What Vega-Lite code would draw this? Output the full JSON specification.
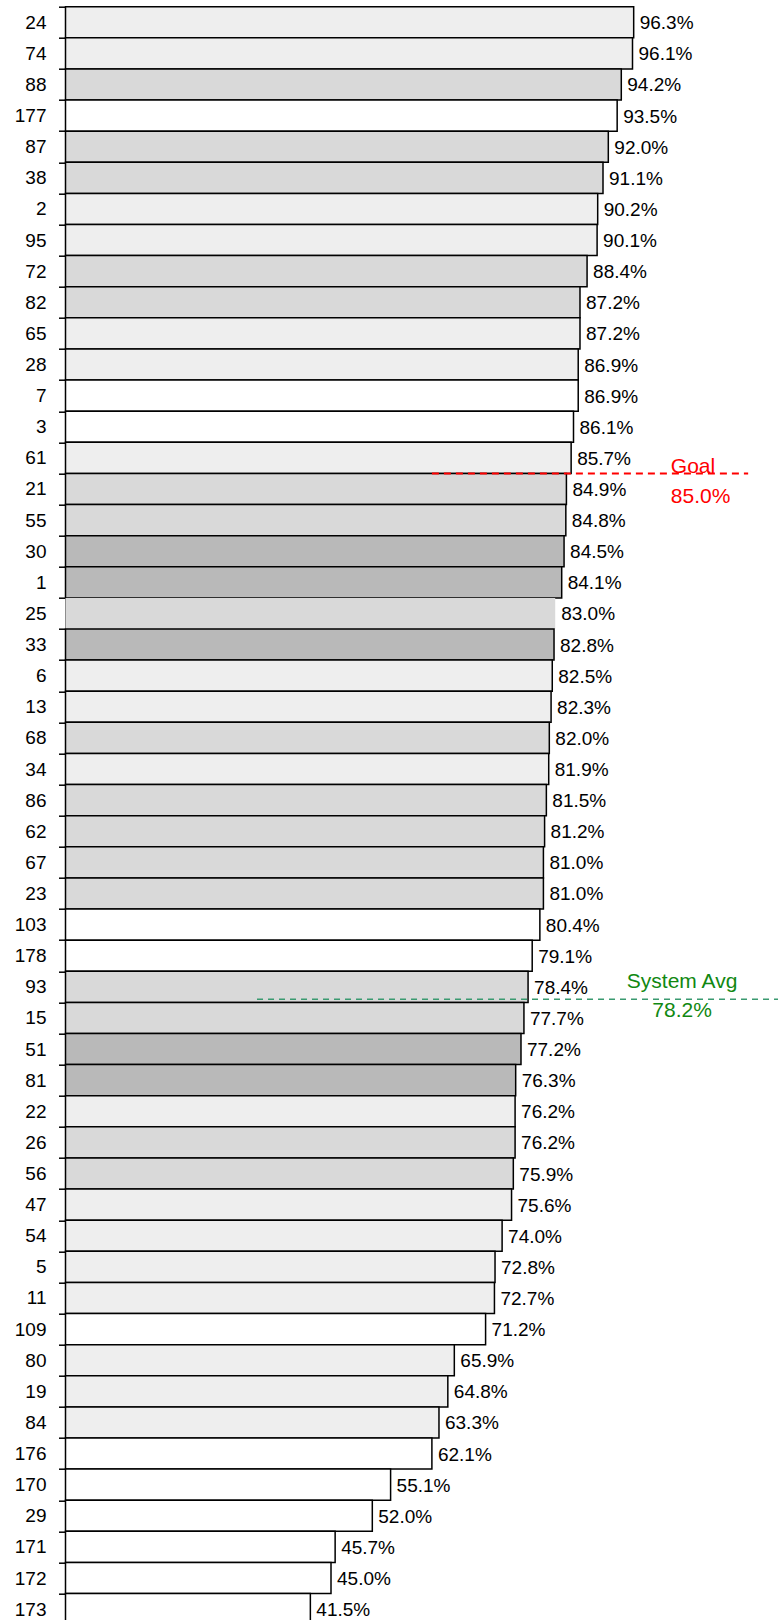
{
  "$schema": "https://vega.github.io/schema/vega-lite/v6.json",
  "width": 712.5,
  "height": 1618,
  "autosize": {"type": "none"},
  "padding": {"left": 65.5, "top": 6.7, "right": 0, "bottom": -4.7},
  "background": "white",
  "view": {"stroke": null},
  "config": {"font": "Liberation Sans"},
  "datasets": {
    "bars": [
      {"id": "24", "v": 0.963, "pat": "sparse"},
      {"id": "74", "v": 0.961, "pat": "sparse"},
      {"id": "88", "v": 0.942, "pat": "medium"},
      {"id": "177", "v": 0.935, "pat": "white"},
      {"id": "87", "v": 0.920, "pat": "medium"},
      {"id": "38", "v": 0.911, "pat": "medium"},
      {"id": "2", "v": 0.902, "pat": "sparse"},
      {"id": "95", "v": 0.901, "pat": "sparse"},
      {"id": "72", "v": 0.884, "pat": "medium"},
      {"id": "82", "v": 0.872, "pat": "medium"},
      {"id": "65", "v": 0.872, "pat": "sparse"},
      {"id": "28", "v": 0.869, "pat": "sparse"},
      {"id": "7", "v": 0.869, "pat": "white"},
      {"id": "3", "v": 0.861, "pat": "white"},
      {"id": "61", "v": 0.857, "pat": "sparse"},
      {"id": "21", "v": 0.849, "pat": "medium"},
      {"id": "55", "v": 0.848, "pat": "medium"},
      {"id": "30", "v": 0.845, "pat": "dense"},
      {"id": "1", "v": 0.841, "pat": "dense"},
      {"id": "25", "v": 0.830, "pat": "medium"},
      {"id": "33", "v": 0.828, "pat": "dense"},
      {"id": "6", "v": 0.825, "pat": "sparse"},
      {"id": "13", "v": 0.823, "pat": "sparse"},
      {"id": "68", "v": 0.820, "pat": "medium"},
      {"id": "34", "v": 0.819, "pat": "sparse"},
      {"id": "86", "v": 0.815, "pat": "medium"},
      {"id": "62", "v": 0.812, "pat": "medium"},
      {"id": "67", "v": 0.810, "pat": "medium"},
      {"id": "23", "v": 0.810, "pat": "medium"},
      {"id": "103", "v": 0.804, "pat": "white"},
      {"id": "178", "v": 0.791, "pat": "white"},
      {"id": "93", "v": 0.784, "pat": "medium"},
      {"id": "15", "v": 0.777, "pat": "medium"},
      {"id": "51", "v": 0.772, "pat": "dense"},
      {"id": "81", "v": 0.763, "pat": "dense"},
      {"id": "22", "v": 0.762, "pat": "sparse"},
      {"id": "26", "v": 0.762, "pat": "medium"},
      {"id": "56", "v": 0.759, "pat": "medium"},
      {"id": "47", "v": 0.756, "pat": "sparse"},
      {"id": "54", "v": 0.740, "pat": "sparse"},
      {"id": "5", "v": 0.728, "pat": "sparse"},
      {"id": "11", "v": 0.727, "pat": "sparse"},
      {"id": "109", "v": 0.712, "pat": "white"},
      {"id": "80", "v": 0.659, "pat": "sparse"},
      {"id": "19", "v": 0.648, "pat": "sparse"},
      {"id": "84", "v": 0.633, "pat": "sparse"},
      {"id": "176", "v": 0.621, "pat": "white"},
      {"id": "170", "v": 0.551, "pat": "white"},
      {"id": "29", "v": 0.520, "pat": "white"},
      {"id": "171", "v": 0.457, "pat": "white"},
      {"id": "172", "v": 0.450, "pat": "white"},
      {"id": "173", "v": 0.415, "pat": "white"}
    ],
    "refs": [
      {"name": "Goal", "value": 0.85, "at": "21"},
      {"name": "System Avg", "value": 0.782, "at": "93"}
    ]
  },
  "layer": [
    {
      "data": {"name": "bars"},
      "mark": {"type": "bar", "stroke": "black"},
      "encoding": {
        "y": {
          "field": "id", "type": "nominal", "sort": null,
          "scale": {"paddingInner": 0, "paddingOuter": 0},
          "axis": {
            "title": null, "orient": "left",
            "domain": true, "domainColor": "black", "domainWidth": 1.5,
            "ticks": true, "tickBand": "extent", "tickSize": 7, "tickColor": "black", "tickWidth": 1.5,
            "labelFont": "Liberation Sans", "labelFontSize": 19, "labelColor": "black",
            "labelPadding": 12.5, "grid": false
          }
        },
        "x": {
          "field": "v", "type": "quantitative",
          "scale": {"domain": [0, 1.2076], "nice": false, "zero": true},
          "axis": null
        },
        "fill": {
          "field": "pat", "type": "nominal",
          "scale": {"domain": ["sparse", "medium", "dense", "white"], "range": ["#eeeeee", "#d9d9d9", "#b9b9b9", "#ffffff"]},
          "legend": null
        },
        "strokeWidth": {"condition": {"test": "datum.id === '25'", "value": 0}, "value": 1.5}
      }
    },
    {
      "data": {"name": "bars"},
      "mark": {"type": "text", "align": "left", "baseline": "middle", "dx": 6, "dy": 1, "fontSize": 19, "font": "Liberation Sans", "color": "black"},
      "encoding": {
        "y": {"field": "id", "type": "nominal", "sort": null},
        "x": {"field": "v", "type": "quantitative"},
        "text": {"field": "v", "type": "quantitative", "format": ".1%"}
      }
    },
    {
      "data": {"name": "refs"},
      "transform": [{"filter": "datum.name === 'Goal'"}],
      "mark": {"type": "rule", "color": "#ff0000", "strokeWidth": 2, "strokeDash": [7, 5]},
      "encoding": {
        "y": {"field": "at", "type": "nominal", "sort": null, "bandPosition": 0},
        "x": {"datum": 0.621, "type": "quantitative"},
        "x2": {"datum": 1.157}
      }
    },
    {
      "data": {"name": "refs"},
      "transform": [
        {"filter": "datum.name === 'Goal'"},
        {"calculate": "[datum.name, format(datum.value, '.1%')]", "as": "lbl"}
      ],
      "mark": {"type": "text", "align": "left", "baseline": "alphabetic", "fontSize": 21, "lineHeight": 29.5, "font": "Liberation Sans", "color": "#ff0000"},
      "encoding": {
        "y": {"field": "at", "type": "nominal", "sort": null, "bandPosition": 0},
        "x": {"datum": 1.026, "type": "quantitative"},
        "text": {"field": "lbl"}
      }
    },
    {
      "data": {"name": "refs"},
      "transform": [{"filter": "datum.name === 'System Avg'"}],
      "mark": {"type": "rule", "color": "#3a9a70", "strokeWidth": 1.5, "strokeDash": [6, 5]},
      "encoding": {
        "y": {"field": "at", "type": "nominal", "sort": null, "bandPosition": 0.9},
        "x": {"datum": 0.3246, "type": "quantitative"},
        "x2": {"datum": 1.2076}
      }
    },
    {
      "data": {"name": "refs"},
      "transform": [
        {"filter": "datum.name === 'System Avg'"},
        {"calculate": "[datum.name, format(datum.value, '.1%')]", "as": "lbl"}
      ],
      "mark": {"type": "text", "align": "center", "baseline": "alphabetic", "fontSize": 21, "lineHeight": 29.5, "font": "Liberation Sans", "color": "#118811"},
      "encoding": {
        "y": {"field": "at", "type": "nominal", "sort": null, "bandPosition": 0.524},
        "x": {"datum": 1.045, "type": "quantitative"},
        "text": {"field": "lbl"}
      }
    }
  ]
}
